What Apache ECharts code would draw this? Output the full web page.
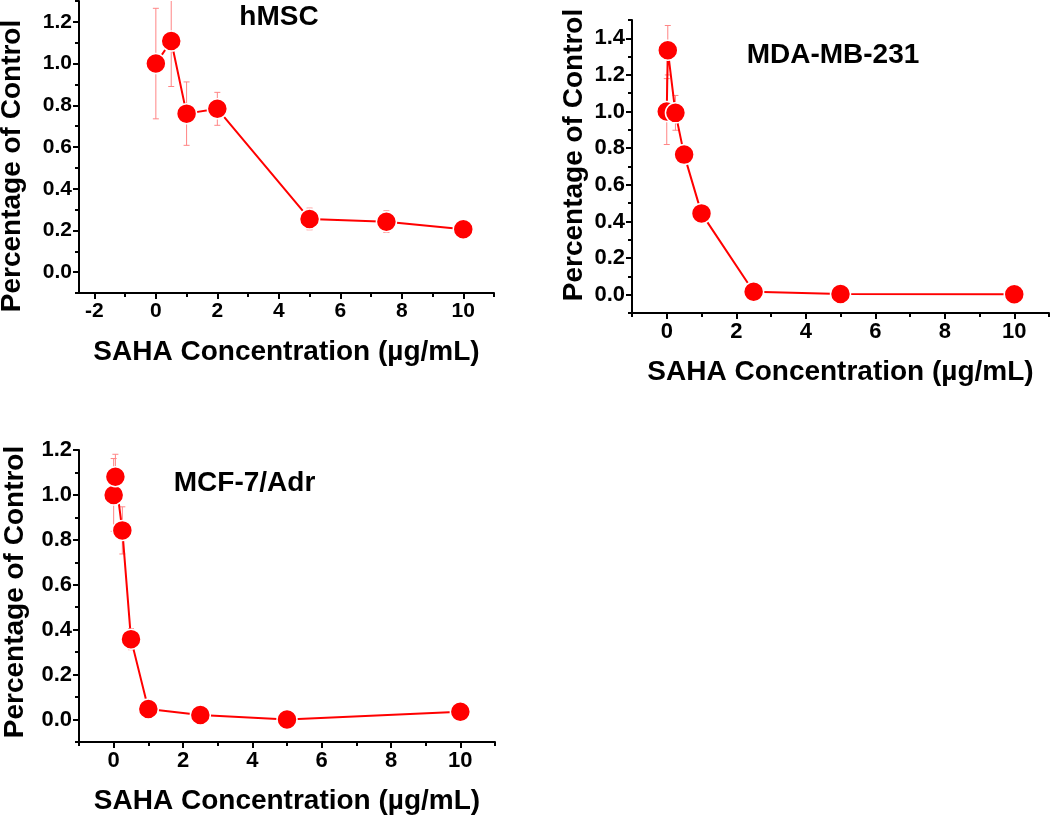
<!DOCTYPE html>
<html>
<head>
<meta charset="utf-8">
<script src="https://cdn.jsdelivr.net/npm/echarts@6/dist/echarts.min.js"></script>
<style>
  html, body { margin: 0; padding: 0; background: #fff; }
  #chart { width: 1050px; height: 816px; }
</style>
</head>
<body>
<div id="chart"></div>
<script>
// ---- Data ----
const xTitle = 'SAHA Concentration (µg/mL)';
const yTitle = 'Percentage of Control';
const panelTitles = ['hMSC', 'MDA-MB-231', 'MCF-7/Adr'];

const hmscX   = [0, 0.5, 1, 2, 5, 7.5, 10];
const hmscY   = [1.0, 1.108, 0.76, 0.783, 0.255, 0.242, 0.206];
const hmscErr = [0.265, 0.218, 0.152, 0.079, 0.052, 0.052, 0.01];

const mdaX   = [0, 0.03, 0.25, 0.5, 1, 2.5, 5, 10];
const mdaY   = [1.0, 1.335, 0.993, 0.765, 0.444, 0.016, 0.004, 0.002];
const mdaErr = [0.18, 0.135, 0.095, 0.02, 0.02, 0.01, 0.005, 0.005];

const mcfX   = [0, 0.05, 0.25, 0.5, 1, 2.5, 5, 10];
const mcfY   = [1.0, 1.081, 0.842, 0.358, 0.047, 0.02, 0.0, 0.035];
const mcfErr = [0.162, 0.1, 0.105, 0.047, 0.01, 0.01, 0.01, 0.01];

// tick values
const xMajor1 = [-2, 0, 2, 4, 6, 8, 10];
const xMinor1 = [-1, 1, 3, 5, 7, 9, 11];
const xMajor23 = [0, 2, 4, 6, 8, 10];
const xMinor23 = [-1, 1, 3, 5, 7, 9, 11];
const yMajor1 = [0, 0.2, 0.4, 0.6, 0.8, 1.0, 1.2];
const yMinor1 = [-0.1, 0.1, 0.3, 0.5, 0.7, 0.9, 1.1, 1.3];
const yMajor2 = [0, 0.2, 0.4, 0.6, 0.8, 1.0, 1.2, 1.4];
const yMinor2 = [-0.1, 0.1, 0.3, 0.5, 0.7, 0.9, 1.1, 1.3, 1.5];
const yMajor3 = [0, 0.2, 0.4, 0.6, 0.8, 1.0, 1.2];
const yMinor3 = [-0.1, 0.1, 0.3, 0.5, 0.7, 0.9, 1.1];

// ---- Layout / style ----
const FONT = '"Liberation Sans", Arial, sans-serif';
const RED = '#ff0000';
const ERR = '#ff8585';

const panels = [
  { grid: { left: 79, top: 1, width: 415, height: 292 }, xr: [-2.5, 11], yr: [-0.1, 1.3],
    xMaj: xMajor1, xMin: xMinor1, yMaj: yMajor1, yMin: yMinor1, lab: 21,
    xs: hmscX, ys: hmscY, es: hmscErr, nameGap: 45 },
  { grid: { left: 632, top: 20, width: 417, height: 293 }, xr: [-1, 11], yr: [-0.1, 1.5],
    xMaj: xMajor23, xMin: xMinor23, yMaj: yMajor2, yMin: yMinor2, lab: 22,
    xs: mdaX, ys: mdaY, es: mdaErr, nameGap: 45 },
  { grid: { left: 79, top: 450, width: 416, height: 293 }, xr: [-1, 11], yr: [-0.1, 1.2],
    xMaj: xMajor23, xMin: xMinor23, yMaj: yMajor3, yMin: yMinor3, lab: 22,
    xs: mcfX, ys: mcfY, es: mcfErr, nameGap: 45 }
];

const grids = [], xAxes = [], yAxes = [], series = [];

panels.forEach((p, i) => {
  grids.push(p.grid);
  const axLine = { show: true, onZero: false, lineStyle: { color: '#000', width: 2 } };
  xAxes.push({
    type: 'value', gridIndex: i, min: p.xr[0], max: p.xr[1], position: 'bottom',
    axisLine: axLine,
    axisTick: { show: true, customValues: p.xMaj, length: 6, lineStyle: { color: '#000', width: 2 } },
    axisLabel: { customValues: p.xMaj, margin: 8, color: '#000', fontSize: p.lab, fontWeight: 'bold', fontFamily: FONT },
    splitLine: { show: false },
    name: xTitle, nameLocation: 'middle', nameGap: p.nameGap,
    nameTextStyle: { fontSize: 28, fontWeight: 'bold', color: '#000', fontFamily: FONT }
  });
  xAxes.push({
    type: 'value', gridIndex: i, min: p.xr[0], max: p.xr[1], position: 'bottom',
    axisLine: { show: false, onZero: false },
    axisTick: { show: true, customValues: p.xMin, length: 4, lineStyle: { color: '#000', width: 2 } },
    axisLabel: { show: false }, splitLine: { show: false }
  });
  yAxes.push({
    type: 'value', gridIndex: i, min: p.yr[0], max: p.yr[1], position: 'left',
    axisLine: axLine,
    axisTick: { show: true, customValues: p.yMaj, length: 6, lineStyle: { color: '#000', width: 2 } },
    axisLabel: { customValues: p.yMaj, margin: 7, color: '#000', fontSize: p.lab, fontWeight: 'bold', fontFamily: FONT,
                 formatter: v => v.toFixed(1) },
    splitLine: { show: false }
  });
  yAxes.push({
    type: 'value', gridIndex: i, min: p.yr[0], max: p.yr[1], position: 'left',
    axisLine: { show: false, onZero: false },
    axisTick: { show: true, customValues: p.yMin, length: 4, lineStyle: { color: '#000', width: 2 } },
    axisLabel: { show: false }, splitLine: { show: false }
  });

  const xi = i * 2, yi = i * 2;
  const errData = p.xs.map((x, k) => [x, p.ys[k], p.es[k]]);
  series.push({
    type: 'custom', xAxisIndex: xi, yAxisIndex: yi, clip: true, z: 1,
    data: errData, encode: { x: 0, y: 1 },
    renderItem: (params, api) => {
      const x = api.value(0), y = api.value(1), e = api.value(2);
      const hi = api.coord([x, y + e]);
      const lo = api.coord([x, y - e]);
      const w = 3;
      const st = { stroke: ERR, lineWidth: 1 };
      return { type: 'group', children: [
        { type: 'line', shape: { x1: hi[0], y1: hi[1], x2: lo[0], y2: lo[1] }, style: st },
        { type: 'line', shape: { x1: hi[0] - w, y1: hi[1], x2: hi[0] + w, y2: hi[1] }, style: st },
        { type: 'line', shape: { x1: lo[0] - w, y1: lo[1], x2: lo[0] + w, y2: lo[1] }, style: st }
      ]};
    }
  });
  series.push({
    type: 'line', xAxisIndex: xi, yAxisIndex: yi, z: 2,
    data: p.xs.map((x, k) => [x, p.ys[k]]),
    symbol: 'circle', symbolSize: 20, showAllSymbol: true,
    lineStyle: { color: RED, width: 2 },
    itemStyle: { color: RED, borderColor: '#fff', borderWidth: 1.5 },
    emphasis: { disabled: true }, animation: false
  });
});

const titleStyle = { fontSize: 28, fontWeight: 'bold', fontFamily: FONT, fill: '#000', textAlign: 'center', textVerticalAlign: 'middle' };
const graphic = [
  { type: 'text', x: 279, y: 17, style: Object.assign({ text: panelTitles[0] }, titleStyle) },
  { type: 'text', x: 833, y: 55, style: Object.assign({ text: panelTitles[1] }, titleStyle) },
  { type: 'text', x: 244.5, y: 483, style: Object.assign({ text: panelTitles[2] }, titleStyle) },
  { type: 'text', x: 12, y: 166, rotation: Math.PI / 2, style: Object.assign({ text: yTitle }, titleStyle) },
  { type: 'text', x: 574, y: 155, rotation: Math.PI / 2, style: Object.assign({ text: yTitle }, titleStyle) },
  { type: 'text', x: 15, y: 592, rotation: Math.PI / 2, style: Object.assign({ text: yTitle }, titleStyle) }
];

const chart = echarts.init(document.getElementById('chart'), null, { renderer: 'canvas' });
chart.setOption({
  animation: false,
  backgroundColor: '#fff',
  textStyle: { fontFamily: FONT },
  grid: grids, xAxis: xAxes, yAxis: yAxes, series: series, graphic: graphic
});
</script>
</body>
</html>
